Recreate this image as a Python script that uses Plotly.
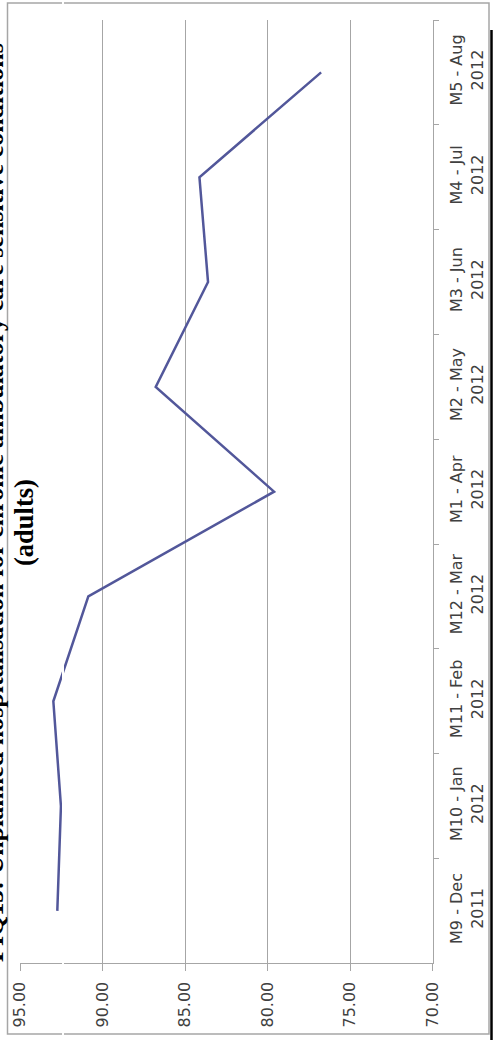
import plotly.graph_objects as go

# Monthly series (rotated layout: value axis runs horizontally, months run bottom-to-top)
months = ["M9 - Dec", "M10 - Jan", "M11 - Feb", "M12 - Mar", "M1 - Apr",
          "M2 - May", "M3 - Jun", "M4 - Jul", "M5 - Aug"]
years = ["2011", "2012", "2012", "2012", "2012", "2012", "2012", "2012", "2012"]
values = [92.74, 92.52, 92.98, 90.86, 79.61, 86.78, 83.61, 84.13, 76.76]

value_ticks = [95, 90, 85, 80, 75, 70]
value_tick_text = ["95.00", "90.00", "85.00", "80.00", "75.00", "70.00"]

title_line1 = "PIQ13: Unplanned hospitalisation for chronic ambulatory care sensitive conditions"
title_line2 = "(adults)"

categories = [f"{m}<br>{y}" for m, y in zip(months, years)]

W, H = 494, 1040


def px_x(v):
    return v / W


def px_y(v):
    return 1 - v / H


fig = go.Figure()
fig.add_trace(go.Scatter(
    x=values, y=categories, mode="lines",
    line=dict(color="#52579a", width=2.5),
    hoverinfo="skip", showlegend=False,
))

axis_font = dict(family="DejaVu Sans", size=16, color="#404040")
grey = "#a6a6a6"

fig.update_layout(
    width=W, height=H,
    margin=dict(l=0, r=0, t=0, b=0),
    paper_bgcolor="white", plot_bgcolor="white",
    showlegend=False,
    xaxis=dict(
        domain=[px_x(20), px_x(432.7)],
        range=[95, 70], automargin=False,
        tickmode="array", tickvals=value_ticks, ticktext=value_tick_text,
        tickangle=-90, tickfont=axis_font,
        ticks="outside", ticklen=7, tickcolor=grey, tickwidth=1,
        showgrid=True, gridcolor=grey, gridwidth=1,
        showline=True, linecolor=grey, linewidth=1,
        zeroline=False, ticklabelstandoff=4,
    ),
    yaxis=dict(
        domain=[px_y(963.3), px_y(20)],
        type="category", categoryorder="array", categoryarray=categories,
        range=[-0.5, 8.5], side="right", automargin=False,
        tickson="boundaries", ticks="outside", ticklen=5,
        tickcolor=grey, tickwidth=1,
        tickangle=-90, tickfont=axis_font,
        showgrid=False, showline=True, linecolor=grey, linewidth=1,
        zeroline=False, ticklabelstandoff=9,
    ),
)

fig.add_annotation(
    text=title_line1, textangle=-90, showarrow=False,
    xref="paper", yref="paper", x=px_x(-6), y=px_y(503),
    xanchor="center", yanchor="middle",
    font=dict(family="Liberation Serif", size=26, color="black", weight="bold"),
)
fig.add_annotation(
    text=title_line2, textangle=-90, showarrow=False,
    xref="paper", yref="paper", x=px_x(24), y=px_y(523),
    xanchor="center", yanchor="middle",
    font=dict(family="Liberation Serif", size=26.5, color="black", weight="bold"),
)

# Page frame around the chart and the heavy rule at the right edge
fig.add_shape(type="rect", xref="paper", yref="paper",
              x0=px_x(7.5), x1=px_x(489), y0=px_y(1034), y1=px_y(3),
              line=dict(color=grey, width=1.5), layer="above")
fig.add_shape(type="line", xref="paper", yref="paper",
              x0=px_x(491.5), x1=px_x(491.5), y0=px_y(30), y1=px_y(1040),
              line=dict(color="black", width=2.5), layer="above")
# Thin white seam running down the page
fig.add_shape(type="line", xref="paper", yref="paper",
              x0=px_x(63), x1=px_x(63), y0=0, y1=1,
              line=dict(color="white", width=2), layer="above")

fig.write_html("out.html")
